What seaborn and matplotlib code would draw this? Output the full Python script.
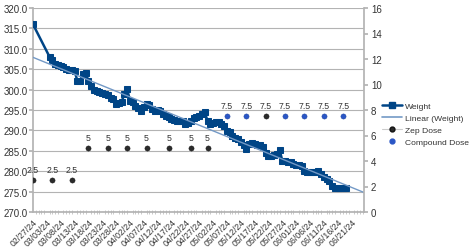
import matplotlib
matplotlib.use("Agg")
import matplotlib.pyplot as plt
from matplotlib.lines import Line2D
from matplotlib.ticker import MultipleLocator, FormatStrFormatter
import numpy as np
import pandas as pd
import seaborn as sns

# ---- data (day offset from 02/27/24) ----
weight_days = [0, 6, 7, 8, 9, 10, 11, 12, 13, 14, 15, 16, 17, 18, 19, 20, 21, 22, 23, 24,
               25, 26, 27, 28, 29, 30, 31, 32, 33, 34, 35, 36, 37, 38, 39, 40, 41, 42, 43, 44,
               45, 46, 47, 48, 49, 50, 51, 52, 53, 54, 55, 56, 57, 58, 59, 60, 61, 62, 63, 64,
               65, 66, 67, 68, 69, 70, 71, 72, 73, 74, 75, 76, 77, 78, 79, 80, 81, 82, 83, 84,
               85, 86, 87, 88, 89, 90, 91, 92, 93, 94, 95, 96, 97, 98, 99, 100, 101, 102, 103, 104,
               105, 106, 107, 108, 109, 110, 111, 112, 113]
weight_vals = [316.0, 308.0, 307.2, 306.3, 306.0, 305.8, 305.5, 305.0, 304.8, 304.9, 304.6, 302.2, 302.1, 303.9, 304.0, 302.2, 301.0, 300.0, 299.6, 299.4,
               299.2, 299.0, 298.6, 298.0, 297.8, 296.5, 296.8, 297.0, 299.0, 300.1, 297.3, 296.9, 296.0, 295.5, 294.8, 295.7, 296.5, 296.3, 295.2, 294.8,
               295.0, 294.8, 294.0, 293.6, 293.2, 292.8, 292.5, 292.4, 292.3, 292.4, 291.6, 291.8, 292.4, 293.0, 293.2, 293.6, 293.9, 294.4, 292.4, 291.6,
               291.8, 292.0, 292.0, 291.5, 291.0, 289.9, 289.5, 288.7, 288.2, 287.9, 287.1, 286.5, 285.4, 286.7, 286.8, 286.7, 286.4, 286.3, 285.9, 284.5,
               283.8, 283.8, 284.0, 284.2, 285.3, 282.6, 282.4, 282.2, 282.2, 281.8, 281.4, 281.4, 281.2, 280.1, 279.9, 279.7, 279.7, 279.7, 280.1, 279.3,
               278.6, 278.1, 277.7, 276.4, 276.0, 276.0, 276.0, 276.0, 276.0]

zep_days = [0, 7, 14, 20, 27, 34, 41, 49, 57, 63, 84]
zep_dose = [2.5, 2.5, 2.5, 5, 5, 5, 5, 5, 5, 5, 7.5]
comp_days = [70, 77, 91, 98, 105, 112]
comp_dose = [7.5, 7.5, 7.5, 7.5, 7.5, 7.5]

xtick_days = list(range(0, 116, 5))
xtick_labels = ["02/27/24", "03/03/24", "03/08/24", "03/13/24", "03/18/24", "03/23/24",
                "03/28/24", "04/02/24", "04/07/24", "04/12/24", "04/17/24", "04/22/24",
                "04/27/24", "05/02/24", "05/07/24", "05/12/24", "05/17/24", "05/22/24",
                "05/27/24", "06/01/24", "06/06/24", "06/11/24", "06/16/24", "06/21/24"]

sns.set_theme(style="white")
plt.rcParams["font.family"] = ["Liberation Sans", "DejaVu Sans"]

C_W = "#004586"
C_TREND = "#7399c6"
C_ZEP = "#2b2b2b"
C_COMP = "#2a56c6"
TXT = "#333333"
GRID = "#b3b3b3"

fig = plt.figure(figsize=(4.74, 2.51), dpi=100)
ax = fig.add_axes([33 / 474, 1 - 213 / 251, (364 - 33) / 474, (213 - 9) / 251])
ax2 = ax.twinx()

wdf = pd.DataFrame({"day": weight_days, "weight": weight_vals})
sns.lineplot(data=wdf, x="day", y="weight", ax=ax, color=C_W, lw=1.8,
             marker="s", markersize=4.8, markeredgecolor=C_W, zorder=3)

xmin, xmax = 0, 119.5
coef = np.polyfit(weight_days, weight_vals, 1)
tx = np.array([xmin, xmax])
ax.plot(tx, np.polyval(coef, tx), color=C_TREND, lw=1.0, zorder=4)

ax.set_xlim(xmin, xmax)
ax.set_ylim(270, 320)
ax.yaxis.set_major_locator(MultipleLocator(5))
ax.yaxis.set_major_formatter(FormatStrFormatter("%.1f"))
ax.grid(axis="y", color=GRID, lw=0.8)
ax.set_axisbelow(True)
ax.set_xticks(xtick_days)
ax.set_xticklabels(xtick_labels, rotation=45, ha="right", rotation_mode="anchor",
                   fontsize=6.3, color=TXT)
ax.xaxis.set_minor_locator(MultipleLocator(1))
ax.tick_params(axis="x", which="major", length=3, color=GRID, width=0.6, pad=2, direction="inout")
ax.tick_params(axis="x", which="minor", length=3, color=GRID, width=0.5, direction="inout", bottom=True)
ax.tick_params(axis="y", length=3, color=GRID, labelsize=7, labelcolor=TXT, pad=1, left=True)
ax.set_xlabel("")
ax.set_ylabel("")
for s in ["top", "right"]:
    ax.spines[s].set_visible(False)
ax.spines["left"].set_color(GRID)
ax.spines["bottom"].set_color(GRID)

zdf = pd.DataFrame({"day": zep_days, "dose": zep_dose})
cdf = pd.DataFrame({"day": comp_days, "dose": comp_dose})
sns.scatterplot(data=zdf, x="day", y="dose", ax=ax2, color=C_ZEP, s=14,
                edgecolor="#111111", linewidth=0.3, zorder=5)
sns.scatterplot(data=cdf, x="day", y="dose", ax=ax2, color=C_COMP, s=14,
                edgecolor="#1a3f9a", linewidth=0.3, zorder=5)
for d, v in list(zip(zep_days, zep_dose)) + list(zip(comp_days, comp_dose)):
    ax2.annotate(f"{v:g}", (d, v), xytext=(0, 4.5), textcoords="offset points",
                 ha="center", va="bottom", fontsize=6.3, color=TXT)

ax2.set_ylim(0, 16)
ax2.yaxis.set_major_locator(MultipleLocator(2))
ax2.tick_params(axis="y", length=3, color=GRID, labelsize=7, labelcolor=TXT, pad=2, right=True)
ax2.set_xlabel("")
ax2.set_ylabel("")
for s in ["top", "left", "bottom"]:
    ax2.spines[s].set_visible(False)
ax2.spines["right"].set_color(GRID)
ax2.set_xlim(xmin, xmax)

handles = [
    Line2D([], [], color=C_W, lw=1.8, marker="s", markersize=4.4),
    Line2D([], [], color=C_TREND, lw=1.2),
    Line2D([], [], color="#cccccc", lw=0.8, marker="o", markersize=3.5,
           markerfacecolor=C_ZEP, markeredgecolor="#111111"),
    Line2D([], [], color=C_COMP, lw=0, marker="o", markersize=3.5),
]
labels = ["Weight", "Linear (Weight)", "Zep Dose", "Compound Dose"]
fig.legend(handles, labels, loc="upper left", bbox_to_anchor=(382 / 474, 1 - 103 / 251),
           frameon=False, fontsize=6.1, handlelength=2.4, labelspacing=0.5,
           handletextpad=0.35, borderaxespad=0, borderpad=0, labelcolor=TXT)

fig.savefig("out.png", dpi=100)
